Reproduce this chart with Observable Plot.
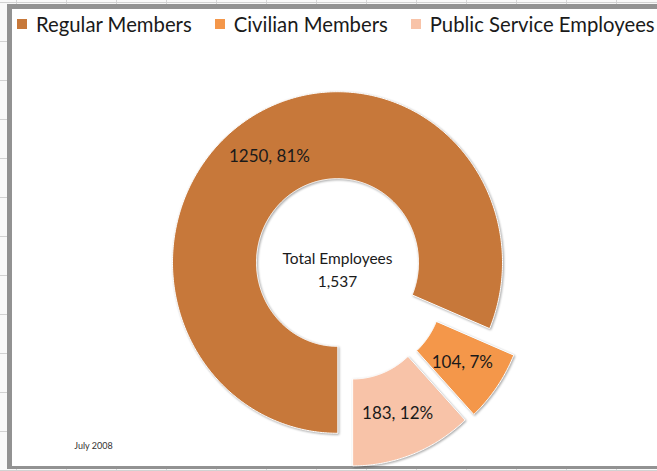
<!DOCTYPE html>
<html><head><meta charset="utf-8">
<script src="https://cdn.jsdelivr.net/npm/d3@7"></script>
<script src="https://cdn.jsdelivr.net/npm/@observablehq/plot@0.6"></script>
<style>
html,body{margin:0;padding:0;}
body{width:657px;height:471px;position:relative;overflow:hidden;font-family:Lato,"Open Sans",sans-serif;
  background-color:#f9f9f9;
  background-image:linear-gradient(to bottom,#d2d2d2 1px,transparent 1px),linear-gradient(to right,#d6d6d6 1px,transparent 1px);
  background-size:100% 39px,50px 100%;
  background-position:0 2px,16px 0;}
#frame{position:absolute;left:7px;top:4px;width:700px;height:457px;border:5px solid #929292;border-bottom-width:3px;background:#fff;}
#legend{position:absolute;top:12px;left:17px;display:flex;align-items:center;white-space:nowrap;font-size:20.3px;color:#1a1a1a;}
#legend .item{display:flex;align-items:center;margin-right:23px;}
#legend .sw{width:10px;height:10px;margin-right:9px;}
#chart{position:absolute;left:0;top:0;}
#chart path{filter:drop-shadow(1px 1.5px 1px rgba(0,0,0,0.35));}
</style>
</head><body>
<div id="frame"></div>
<div id="legend"></div>
<div id="chart"></div>
<script>
const categories = ["Regular Members", "Civilian Members", "Public Service Employees"];
const counts = [1250, 104, 183];
const percents = [81, 7, 12];
const colors = ["#C7783A", "#F4974A", "#F8C3A8"];
const centerLines = ["Total Employees", "1,537"];
const note = "July 2008";

// legend
const legend = document.getElementById("legend");
categories.forEach((c, i) => {
  const it = document.createElement("div"); it.className = "item";
  const sw = document.createElement("div"); sw.className = "sw"; sw.style.background = colors[i];
  const tx = document.createElement("span"); tx.textContent = c;
  it.append(sw, tx); legend.append(it);
});

const W = 657, H = 471;
const cx = 337, cy = 262, rIn = 81, rOut = 165, ky = 1.035, explodeDist = 36;
// small per-slice tweak of the explode direction (radians), as drawn in the original
const explodeTweak = {"Civilian Members": 0.23, "Public Service Employees": -0.06};

const rows = categories.map((c, i) => ({category: c, count: counts[i], pct: percents[i], exploded: i > 0}));
const arcs = d3.pie().value(d => d.count).sort(null).startAngle(Math.PI).endAngle(3 * Math.PI)(rows);

function sliceGeom(a) {
  const m = (a.startAngle + a.endAngle) / 2;
  const d = a.data.exploded ? explodeDist : 0;
  const em = m + (explodeTweak[a.data.category] || 0);
  const ox = cx + d * Math.sin(em), oy = cy - d * Math.cos(em);
  const pt = (ang, r) => [ox + r * Math.sin(ang), oy - r * ky * Math.cos(ang)];
  const n = Math.max(8, Math.ceil((a.endAngle - a.startAngle) / 0.01));
  const ring = [];
  for (let k = 0; k <= n; k++) ring.push(pt(a.startAngle + (a.endAngle - a.startAngle) * k / n, rOut));
  for (let k = n; k >= 0; k--) ring.push(pt(a.startAngle + (a.endAngle - a.startAngle) * k / n, rIn));
  ring.push(ring[0]);
  const c = pt(m, (rIn + rOut) / 2);
  return {type: "Feature", properties: {category: a.data.category, label: `${a.data.count}, ${a.data.pct}%`, lx: c[0], ly: c[1]},
          geometry: {type: "Polygon", coordinates: [ring]}};
}
const features = arcs.map(sliceGeom);

const plot = Plot.plot({
  width: W, height: H, margin: 0,
  projection: {type: "identity"},
  color: {domain: categories, range: colors},
  style: {background: "transparent", overflow: "visible"},
  marks: [
    Plot.geo(features, {fill: d => d.properties.category, stroke: "white", strokeWidth: 1}),
    Plot.text(features, {x: d => d.properties.lx, y: d => d.properties.ly, text: d => d.properties.label,
      fontSize: 17, fill: "#1a1a1a", fontFamily: "Lato"}),
    Plot.text([centerLines.join("\n")], {x: cx, y: 268, text: d => d, fontSize: 15.5, lineHeight: 1.45,
      fill: "#1a1a1a", fontFamily: "Lato"}),
    Plot.text([note], {x: 93, y: 446, text: d => d, fontSize: 9, fill: "#333", fontFamily: "Lato"})
  ]
});
document.getElementById("chart").append(plot);
</script>
</body></html>
